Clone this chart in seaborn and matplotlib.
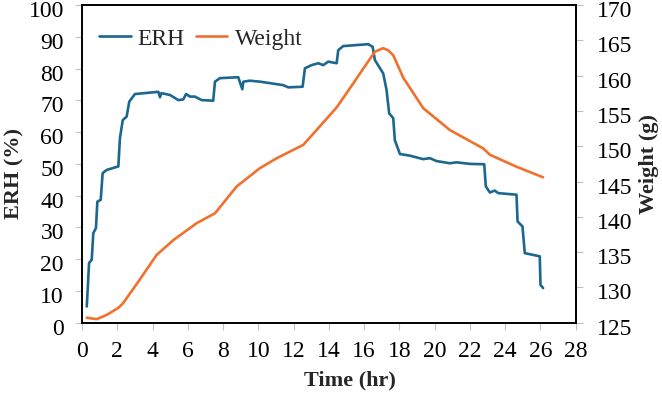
import matplotlib
matplotlib.use("Agg")
import matplotlib.pyplot as plt
import matplotlib.transforms as mtransforms
import seaborn as sns
import pandas as pd

# ERH series (time in hr, ERH in %)
erh_time = [0.27, 0.40, 0.55, 0.64, 0.79, 0.87, 1.06, 1.17, 1.40, 2.06, 2.15, 2.31, 2.53, 2.68,
            3.0, 4.33, 4.42, 4.5, 4.99, 5.46, 5.74, 5.9, 6.12, 6.4, 6.78, 7.44, 7.54, 7.82, 8.86,
            9.09, 9.15, 9.52, 10.09, 11.41, 11.7, 12.51, 12.64, 13.02, 13.4, 13.68, 13.96, 14.44,
            14.53, 14.81, 16.23, 16.48, 16.61, 17.08, 17.27, 17.42, 17.65, 17.74, 18.03, 18.59,
            19.35, 19.73, 20.1, 20.86, 21.24, 22.0, 22.81, 22.9, 23.13, 23.41, 23.6, 24.64, 24.7,
            24.98, 25.11, 25.96, 26.0, 26.15]
erh_values = [5.1, 18.8, 19.8, 28.2, 29.8, 38.1, 38.7, 47.1, 48.1, 49.2, 58.1, 63.8, 64.9, 69.6,
              72.0, 72.7, 71.0, 72.3, 71.7, 70.1, 70.3, 72.0, 71.2, 71.2, 70.1, 69.9, 75.9, 77.0, 77.3,
              73.5, 75.9, 76.2, 75.9, 74.8, 74.1, 74.3, 80.1, 81.1, 81.7, 81.1, 82.2, 81.7,
              85.8, 87.1, 87.7, 86.9, 82.7, 78.5, 73.3, 65.9, 64.4, 57.5, 53.1, 52.6,
              51.5, 51.8, 50.9, 50.2, 50.5, 50.0, 49.9, 42.9, 41.0, 41.6, 40.8, 40.3, 31.9,
              30.3, 21.9, 20.9, 11.9, 10.9]

# Weight series (time in hr, weight in g)
weight_time = [0.27, 0.83, 1.4, 2.06, 2.34, 3.19, 4.23, 5.18, 6.5, 7.54, 8.77, 10.09, 11.04, 12.55,
               13.3, 14.44, 15.38, 16.14, 16.61, 17.08, 17.36, 17.65, 18.22, 19.35, 20.86, 22.75,
               23.13, 24.64, 26.15]
weight_values = [125.7, 125.5, 126.1, 127.1, 127.8, 130.8, 134.6, 136.7, 139.1, 140.5, 144.3, 146.9,
                 148.3, 150.2, 152.3, 155.5, 158.9, 161.7, 163.4, 163.9, 163.6, 162.9, 159.7, 155.4,
                 152.3, 149.7, 148.8, 147.1, 145.6]

x_ticks = list(range(0, 29, 2))
erh_ticks = list(range(0, 101, 10))
weight_ticks = list(range(125, 171, 5))

sns.set_theme(style="white")
plt.rcParams['font.family'] = ['Liberation Serif', 'DejaVu Serif']

erh_color = '#1c6790'
weight_color = '#f0702e'
fs = 17
fs_lab = 16

fig = plt.figure(figsize=(6.62, 3.94), dpi=100)
ax = fig.add_axes([0.1239, 0.181, 0.8697 - 0.1239, 0.987 - 0.181])
ax2 = ax.twinx()

df_erh = pd.DataFrame({'Time': erh_time, 'ERH': erh_values})
df_w = pd.DataFrame({'Time': weight_time, 'Weight': weight_values})

sns.lineplot(data=df_erh, x='Time', y='ERH', ax=ax, color=erh_color, lw=1.9,
             estimator=None, sort=False, label='ERH', legend=False)
sns.lineplot(data=df_w, x='Time', y='Weight', ax=ax2, color=weight_color, lw=1.9,
             estimator=None, sort=False, label='Weight', legend=False)

ax.set_xlim(0, 28)
ax.set_ylim(0, 100)
ax2.set_ylim(125, 170)
ax.set_xticks(x_ticks)
ax.set_yticks(erh_ticks)
ax2.set_yticks(weight_ticks)

for a in (ax, ax2):
    for s in a.spines.values():
        s.set_color('black')
        s.set_linewidth(1.2)
    a.grid(False)

ax.tick_params(axis='both', which='major', direction='out', length=5, width=0.8,
               color='#c0c0c0', labelsize=fs, labelcolor='black', pad=8,
               left=True, bottom=True)
ax2.tick_params(axis='y', direction='out', length=5, width=0.8, color='#c0c0c0',
                labelsize=fs, labelcolor='black', pad=10, right=True)

# Shift y tick labels slightly down, as in the reference
offset = mtransforms.ScaledTranslation(0, -4 / 100, fig.dpi_scale_trans)
for a in (ax, ax2):
    for lbl in a.get_yticklabels():
        lbl.set_transform(lbl.get_transform() + offset)

ax.set_xlabel('Time (hr)', fontsize=fs_lab, fontweight='bold')
ax.set_ylabel('ERH (%)', fontsize=fs_lab, fontweight='bold')
ax2.set_ylabel('Weight (g)', fontsize=fs_lab, fontweight='bold')
ax.xaxis.set_label_coords(0.543, -0.150)
ax.yaxis.set_label_coords(-0.117, 0.47)
ax2.yaxis.set_label_coords(1.128, 0.5)

h1, l1 = ax.get_legend_handles_labels()
h2, l2 = ax2.get_legend_handles_labels()
ax.legend(h1 + h2, l1 + l2, loc='upper left', bbox_to_anchor=(0.034, 0.928),
          ncol=2, frameon=False, fontsize=fs, handlelength=1.35, handletextpad=0.3,
          columnspacing=0.45, borderaxespad=0, borderpad=0)

fig.savefig('out.png', dpi=100)
